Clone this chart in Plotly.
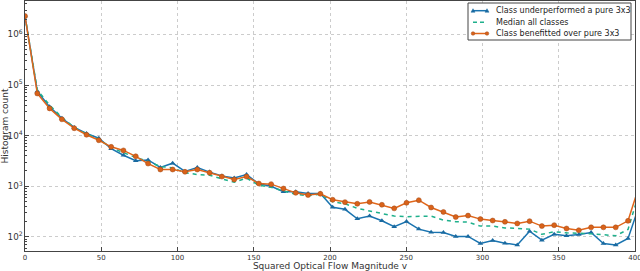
import plotly.graph_objects as go

step = 8.07
n_points = 51
x_vals = [round(i * step, 3) for i in range(n_points)]

under = [2.3e6, 7.5e4, 3.7e4, 2.2e4, 1.45e4, 1.1e4, 8.9e3, 5.5e3, 4.1e3, 3.2e3,
         3.3e3, 2.35e3, 2.85e3, 1.96e3, 2.34e3, 1.9e3, 1.6e3, 1.45e3, 1.7e3, 1.12e3,
         1.0e3, 780, 780, 720, 720, 385, 350, 227, 257, 208,
         158, 200, 142, 123, 122, 102, 102, 74, 85, 75,
         69, 129, 86, 112, 105, 111, 122, 74, 69, 93,
         480]
median = [2.3e6, 8.0e4, 4.0e4, 2.3e4, 1.45e4, 1.07e4, 8.5e3, 5.8e3, 4.6e3, 3.7e3,
          3.1e3, 2.45e3, 2.3e3, 1.85e3, 1.7e3, 1.65e3, 1.4e3, 1.2e3, 1.45e3, 1.05e3,
          950, 820, 690, 650, 700, 490, 450, 365, 325, 280,
          257, 250, 250, 257, 214, 199, 195, 163, 163, 150,
          147, 142, 112, 126, 120, 118, 115, 110, 105, 140,
          890]
over = [2.3e6, 6.8e4, 3.45e4, 2.1e4, 1.4e4, 1.04e4, 8.1e3, 6.0e3, 5.1e3, 3.9e3,
        2.8e3, 2.14e3, 2.14e3, 1.93e3, 2.14e3, 1.85e3, 1.55e3, 1.36e3, 1.55e3, 1.13e3,
        1.1e3, 900, 740, 670, 710, 540, 485, 450, 490, 430,
        365, 470, 530, 380, 310, 246, 263, 224, 210, 198,
        184, 204, 163, 170, 146, 135, 154, 154, 154, 207,
        1200]

names = ["Class underperformed a pure 3x3", "Median all classes", "Class benefitted over pure 3x3"]
x_ticks = [0, 50, 100, 150, 200, 250, 300, 350, 400]

BLUE, GREEN, ORANGE = "#1a74b0", "#1fb08c", "#e0661a"

fig = go.Figure()
fig.add_trace(go.Scatter(x=x_vals, y=under, name=names[0], mode="lines+markers",
                         line=dict(color=BLUE, width=1.5),
                         marker=dict(symbol="triangle-up", size=5, color="#1a6aa0")))
fig.add_trace(go.Scatter(x=x_vals, y=median, name=names[1], mode="lines",
                         line=dict(color=GREEN, width=1.5, dash="4px,4px")))
fig.add_trace(go.Scatter(x=x_vals, y=over, name=names[2], mode="lines+markers",
                         line=dict(color=ORANGE, width=1.5),
                         marker=dict(symbol="circle", size=5, color="#d9621a",
                                     line=dict(color="#a04a18", width=0.5))))

# compact matplotlib-style legend (paper coordinates)
L, R, T, B = 25, 635, 1, 251
def px_x(p): return (p - L) / (R - L)
def px_y(p): return (B - p) / (B - T)

shapes = [dict(type="rect", xref="paper", yref="paper", x0=px_x(468), x1=px_x(631),
               y0=px_y(40), y1=px_y(3), line=dict(color="#444444", width=1),
               fillcolor="white", layer="above")]
annotations = []
entry_y = [10.7, 22.3, 33.5]
styles = [(BLUE, "solid", "tri"), (GREEN, "4px,3px", None), (ORANGE, "solid", "circ")]
for name, yy, (col, dash, mk) in zip(names, entry_y, styles):
    shapes.append(dict(type="line", xref="paper", yref="paper", x0=px_x(473), x1=px_x(487),
                       y0=px_y(yy), y1=px_y(yy), line=dict(color=col, width=1.5, dash=dash),
                       layer="above"))
    for mx in (473, 487):
        if mk == "circ":
            shapes.append(dict(type="circle", xref="paper", yref="paper",
                               xsizemode="pixel", ysizemode="pixel",
                               xanchor=px_x(mx), yanchor=px_y(yy),
                               x0=-1.8, x1=1.8, y0=-1.8, y1=1.8,
                               fillcolor="#d9621a", line=dict(color="#a04a18", width=0.5),
                               layer="above"))
        elif mk == "tri":
            shapes.append(dict(type="path", xref="paper", yref="paper",
                               xsizemode="pixel", ysizemode="pixel",
                               xanchor=px_x(mx), yanchor=px_y(yy),
                               path="M -2 -1.5 L 2 -1.5 L 0 2 Z",
                               fillcolor="#1a6aa0", line=dict(color="#1a6aa0", width=0.5),
                               layer="above"))
    annotations.append(dict(text=name, xref="paper", yref="paper", x=px_x(494), y=px_y(yy),
                            xanchor="left", yanchor="middle", showarrow=False,
                            font=dict(size=8, color="#222222", family="DejaVu Sans")))

fig.update_layout(
    width=640, height=271,
    margin=dict(l=25, r=5, t=1, b=20),
    plot_bgcolor="white", paper_bgcolor="white",
    font=dict(family="DejaVu Sans", size=8, color="#333333"),
    showlegend=False,
    shapes=shapes, annotations=annotations,
)
fig.update_xaxes(range=[0, 400], tickvals=x_ticks, showline=True, linecolor="#444444",
                 linewidth=1, mirror=True, ticks="inside", ticklen=4, automargin=False,
                 ticklabeloverflow="allow",
                 showgrid=True, gridcolor="#cccccc", griddash="dot", gridwidth=1,
                 zeroline=False,
                 title=dict(text="Squared Optical Flow Magnitude v", font=dict(size=9, color="#333333"),
                            standoff=0),
                 tickfont=dict(size=7))
fig.update_yaxes(type="log", range=[1.72, 6.66], dtick=1, exponentformat="power",
                 showline=True, linecolor="#444444", linewidth=1, mirror=True,
                 ticks="inside", ticklen=4, automargin=False,
                 minor=dict(ticks="inside", ticklen=2, showgrid=False, tickcolor="#444444"),
                 showgrid=True, gridcolor="#cccccc", griddash="dot", gridwidth=1,
                 zeroline=False,
                 title=dict(text="Histogram count", font=dict(size=9, color="#333333"),
                            standoff=0),
                 tickfont=dict(size=7))

fig.write_html("out.html", config={"displayModeBar": False},
               post_script="document.body.style.margin='0';document.body.style.padding='0';")
